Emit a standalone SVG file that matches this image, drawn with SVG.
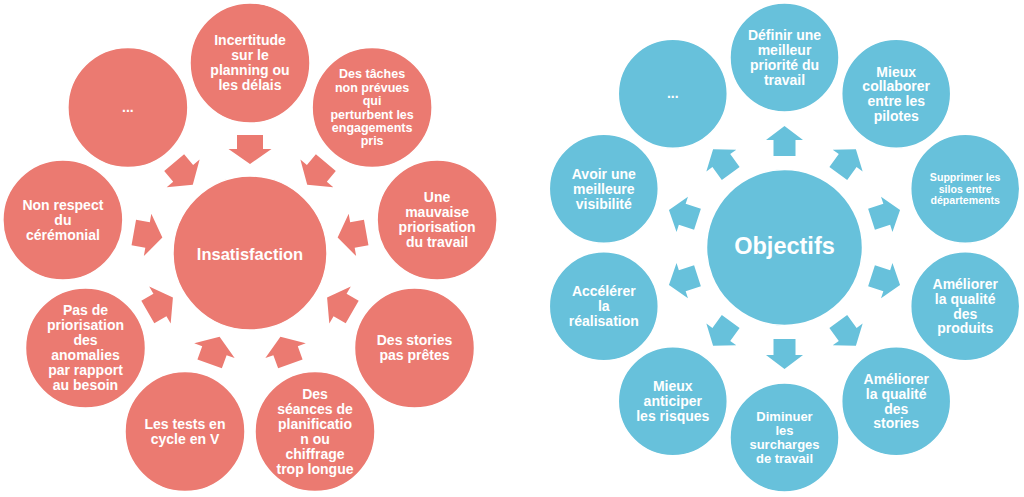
<svg xmlns="http://www.w3.org/2000/svg" xmlns:xlink="http://www.w3.org/1999/xlink" width="1024" height="497" viewBox="0 0 1024 497">
<style>
.red{fill:#EB7A71;stroke:#ffffff;stroke-width:1.5}
.blue{fill:#67C1DB;stroke:#ffffff;stroke-width:1.5}
.ar{fill:#EB7A71}
.ab{fill:#67C1DB}
text{font-family:"Liberation Sans",Arial,sans-serif;fill:#ffffff;text-anchor:middle;font-weight:bold}
.t14{font-size:14px}
.t13{font-size:13px}
.t125{font-size:12.5px}
.t106{font-size:10.6px}
.dots{font-size:14px}
.big{font-size:16.5px}
.huge{font-size:23.5px}
</style>
<defs>
<path id="arrL" d="M237,135 H263 V149 H271.5 L250,164 L228.5,149 H237 Z"/>
<path id="arrR" d="M773.5,156 V140 H766 L784.5,126 L803,140 H795.5 V156 Z"/>
</defs>
<rect width="1024" height="497" fill="#ffffff"/>
<g id="connectors">
<g class="ar">
<use xlink:href="#arrL"/>
<use xlink:href="#arrL" transform="rotate(40 250 253)"/>
<use xlink:href="#arrL" transform="rotate(80 250 253)"/>
<use xlink:href="#arrL" transform="rotate(120 250 253)"/>
<use xlink:href="#arrL" transform="rotate(160 250 253)"/>
<use xlink:href="#arrL" transform="rotate(200 250 253)"/>
<use xlink:href="#arrL" transform="rotate(240 250 253)"/>
<use xlink:href="#arrL" transform="rotate(280 250 253)"/>
<use xlink:href="#arrL" transform="rotate(320 250 253)"/>
</g>
<g class="ab">
<use xlink:href="#arrR"/>
<use xlink:href="#arrR" transform="rotate(36 784.5 247.5)"/>
<use xlink:href="#arrR" transform="rotate(72 784.5 247.5)"/>
<use xlink:href="#arrR" transform="rotate(108 784.5 247.5)"/>
<use xlink:href="#arrR" transform="rotate(144 784.5 247.5)"/>
<use xlink:href="#arrR" transform="rotate(180 784.5 247.5)"/>
<use xlink:href="#arrR" transform="rotate(216 784.5 247.5)"/>
<use xlink:href="#arrR" transform="rotate(252 784.5 247.5)"/>
<use xlink:href="#arrR" transform="rotate(288 784.5 247.5)"/>
<use xlink:href="#arrR" transform="rotate(324 784.5 247.5)"/>
</g>
</g>

<!-- Left diagram -->
<g id="insatisfaction">
<circle class="red" cx="250" cy="253" r="77"/>
<text class="big" x="250" y="259.5">Insatisfaction</text>
</g>
<g id="l-incertitude">
<circle class="red" cx="250" cy="63" r="60"/>
<text class="t14"><tspan x="250" y="45.4">Incertitude</tspan><tspan x="250" y="60.4">sur le</tspan><tspan x="250" y="75.4">planning ou</tspan><tspan x="250" y="90.4">les délais</tspan></text>
</g>
<g id="l-taches">
<circle class="red" cx="372.1" cy="107.5" r="60"/>
<text class="t125"><tspan x="372.1" y="78.4">Des tâches</tspan><tspan x="372.1" y="91.8">non prévues</tspan><tspan x="372.1" y="105.2">qui</tspan><tspan x="372.1" y="118.6">perturbent les</tspan><tspan x="372.1" y="132">engagements</tspan><tspan x="372.1" y="145.4">pris</tspan></text>
</g>
<g id="l-mauvaise">
<circle class="red" cx="437.1" cy="220" r="60"/>
<text class="t14"><tspan x="437.1" y="202.4">Une</tspan><tspan x="437.1" y="217.4">mauvaise</tspan><tspan x="437.1" y="232.4">priorisation</tspan><tspan x="437.1" y="247.4">du travail</tspan></text>
</g>
<g id="l-stories">
<circle class="red" cx="414.5" cy="348" r="60"/>
<text class="t14"><tspan x="414.5" y="345.4">Des stories</tspan><tspan x="414.5" y="360.4">pas prêtes</tspan></text>
</g>
<g id="l-seances">
<circle class="red" cx="315" cy="431.5" r="60"/>
<text class="t14"><tspan x="315" y="398.9">Des</tspan><tspan x="315" y="413.9">séances de</tspan><tspan x="315" y="428.9">planificatio</tspan><tspan x="315" y="443.9">n ou</tspan><tspan x="315" y="458.9">chiffrage</tspan><tspan x="315" y="473.9">trop longue</tspan></text>
</g>
<g id="l-tests">
<circle class="red" cx="185" cy="431.5" r="60"/>
<text class="t14"><tspan x="185" y="428.9">Les tests en</tspan><tspan x="185" y="443.9">cycle en V</tspan></text>
</g>
<g id="l-anomalies">
<circle class="red" cx="85.5" cy="348" r="60"/>
<text class="t14"><tspan x="85.5" y="315.4">Pas de</tspan><tspan x="85.5" y="330.4">priorisation</tspan><tspan x="85.5" y="345.4">des</tspan><tspan x="85.5" y="360.4">anomalies</tspan><tspan x="85.5" y="375.4">par rapport</tspan><tspan x="85.5" y="390.4">au besoin</tspan></text>
</g>
<g id="l-ceremonial">
<circle class="red" cx="62.9" cy="220" r="60"/>
<text class="t14"><tspan x="62.9" y="209.9">Non respect</tspan><tspan x="62.9" y="224.9">du</tspan><tspan x="62.9" y="239.9">cérémonial</tspan></text>
</g>
<g id="l-etc">
<circle class="red" cx="127.9" cy="107.5" r="60"/>
<text class="dots" x="127.9" y="112">...</text>
</g>

<!-- Right diagram -->
<g id="objectifs">
<circle class="blue" cx="784.5" cy="247.5" r="78"/>
<text class="huge" x="784.5" y="254">Objectifs</text>
</g>
<g id="r-priorite">
<circle class="blue" cx="784.5" cy="57.5" r="54.5"/>
<text class="t14"><tspan x="784.5" y="40.2">Définir une</tspan><tspan x="784.5" y="55">meilleur</tspan><tspan x="784.5" y="69.8">priorité du</tspan><tspan x="784.5" y="84.6">travail</tspan></text>
</g>
<g id="r-collaborer">
<circle class="blue" cx="896.2" cy="93.8" r="54.5"/>
<text class="t14"><tspan x="896.2" y="76.5">Mieux</tspan><tspan x="896.2" y="91.3">collaborer</tspan><tspan x="896.2" y="106.1">entre les</tspan><tspan x="896.2" y="120.9">pilotes</tspan></text>
</g>
<g id="r-silos">
<circle class="blue" cx="965.2" cy="188.8" r="54.5"/>
<text class="t106"><tspan x="965.2" y="180.8">Supprimer les</tspan><tspan x="965.2" y="192.5">silos entre</tspan><tspan x="965.2" y="204.2">départements</tspan></text>
</g>
<g id="r-produits">
<circle class="blue" cx="965.2" cy="306.2" r="54.5"/>
<text class="t14"><tspan x="965.2" y="288.9">Améliorer</tspan><tspan x="965.2" y="303.7">la qualité</tspan><tspan x="965.2" y="318.5">des</tspan><tspan x="965.2" y="333.3">produits</tspan></text>
</g>
<g id="r-stories">
<circle class="blue" cx="896.2" cy="401.2" r="54.5"/>
<text class="t14"><tspan x="896.2" y="383.9">Améliorer</tspan><tspan x="896.2" y="398.7">la qualité</tspan><tspan x="896.2" y="413.5">des</tspan><tspan x="896.2" y="428.3">stories</tspan></text>
</g>
<g id="r-surcharges">
<circle class="blue" cx="784.5" cy="437.5" r="54.5"/>
<text class="t13"><tspan x="784.5" y="421">Diminuer</tspan><tspan x="784.5" y="435">les</tspan><tspan x="784.5" y="449">surcharges</tspan><tspan x="784.5" y="463">de travail</tspan></text>
</g>
<g id="r-risques">
<circle class="blue" cx="672.8" cy="401.2" r="54.5"/>
<text class="t14"><tspan x="672.8" y="391.3">Mieux</tspan><tspan x="672.8" y="406.1">anticiper</tspan><tspan x="672.8" y="420.9">les risques</tspan></text>
</g>
<g id="r-realisation">
<circle class="blue" cx="603.8" cy="306.2" r="54.5"/>
<text class="t14"><tspan x="603.8" y="296.3">Accélérer</tspan><tspan x="603.8" y="311.1">la</tspan><tspan x="603.8" y="325.9">réalisation</tspan></text>
</g>
<g id="r-visibilite">
<circle class="blue" cx="603.8" cy="188.8" r="54.5"/>
<text class="t14"><tspan x="603.8" y="178.9">Avoir une</tspan><tspan x="603.8" y="193.7">meilleure</tspan><tspan x="603.8" y="208.5">visibilité</tspan></text>
</g>
<g id="r-etc">
<circle class="blue" cx="672.8" cy="93.8" r="54.5"/>
<text class="dots" x="672.8" y="98">...</text>
</g>
</svg>
